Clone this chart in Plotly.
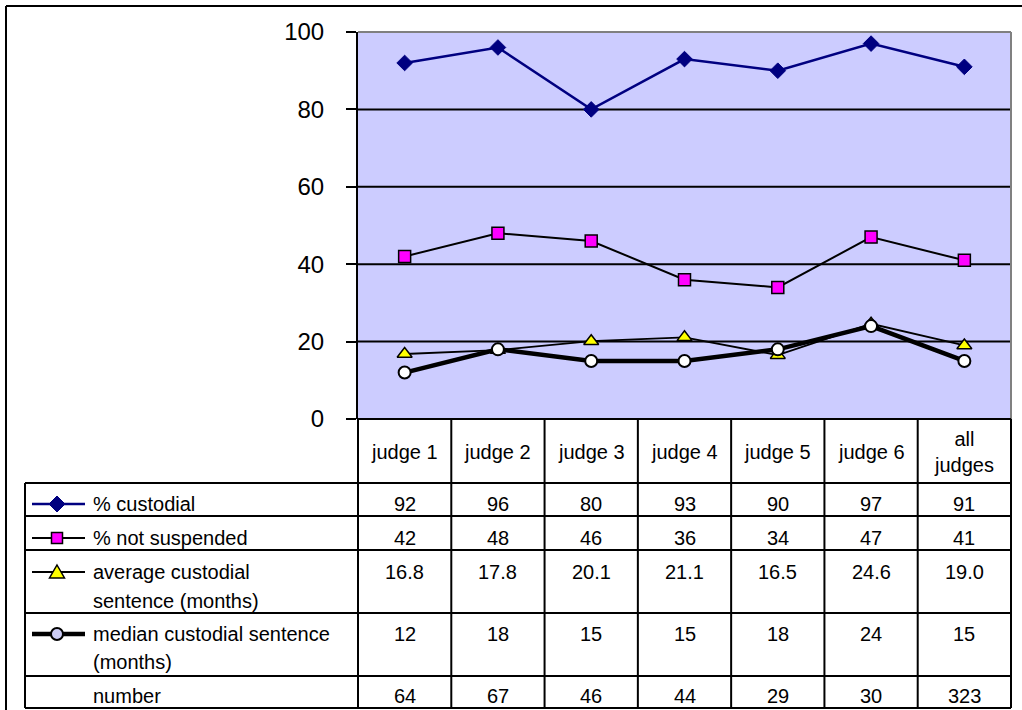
import plotly.graph_objects as go

# ---- data ---------------------------------------------------------------
judges = ["judge 1", "judge 2", "judge 3", "judge 4", "judge 5", "judge 6", "all judges"]
header_labels = ["judge 1", "judge 2", "judge 3", "judge 4", "judge 5", "judge 6", "all<br>judges"]
pct_custodial = [92, 96, 80, 93, 90, 97, 91]
pct_not_suspended = [42, 48, 46, 36, 34, 47, 41]
avg_custodial_sentence = [16.8, 17.8, 20.1, 21.1, 16.5, 24.6, 19.0]
median_custodial_sentence = [12, 18, 15, 15, 18, 24, 15]
number_of_cases = [64, 67, 46, 44, 29, 30, 323]
y_ticks = [0, 20, 40, 60, 80, 100]
grid_levels = [20, 40, 60, 80]

# ---- page geometry (pixels) --------------------------------------------
W, H = 1022, 710
PLOT_L, PLOT_R, PLOT_T, PLOT_B = 358, 1011, 32, 419
TABLE_L = 25
ROW_LINES = [483, 516, 550, 613, 676, 708]
FONT = "Liberation Sans, Arial, sans-serif"
CELL_SIZE = 20


def px(x):
    return x / W


def py(y):
    return 1 - y / H


NAVY = "#000080"
MAGENTA = "#FF00FF"
YELLOW = "#FFFF00"

series = [
    dict(name="% custodial", y=pct_custodial, line=dict(color=NAVY, width=2.5),
         marker=dict(symbol="diamond", size=12, color=NAVY, line=dict(color=NAVY, width=1))),
    dict(name="% not suspended", y=pct_not_suspended, line=dict(color="black", width=2),
         marker=dict(symbol="square", size=12, color=MAGENTA, line=dict(color="black", width=1.5))),
    dict(name="average custodial sentence (months)", y=avg_custodial_sentence,
         line=dict(color="black", width=1.8),
         marker=dict(symbol="triangle-up", size=13, color=YELLOW, line=dict(color="black", width=1.5))),
    dict(name="median custodial sentence (months)", y=median_custodial_sentence,
         line=dict(color="black", width=4.5),
         marker=dict(symbol="circle", size=12, color="white", line=dict(color="black", width=2))),
]

fig = go.Figure()
for s in series:
    fig.add_trace(go.Scatter(x=judges, y=s["y"], name=s["name"], mode="lines+markers",
                             line=s["line"], marker=s["marker"], cliponaxis=False,
                             hoverinfo="x+y+name"))

shapes = []
annotations = []


def hline(y, x0, x1, color="black", width=2):
    shapes.append(dict(type="line", xref="paper", yref="paper", x0=px(x0), x1=px(x1),
                       y0=py(y), y1=py(y), line=dict(color=color, width=width)))


def vline(x, y0, y1, color="black", width=2):
    shapes.append(dict(type="line", xref="paper", yref="paper", x0=px(x), x1=px(x),
                       y0=py(y0), y1=py(y1), line=dict(color=color, width=width)))


# horizontal gridlines inside the plot area
for g in grid_levels:
    shapes.append(dict(type="line", xref="paper", yref="y", x0=px(PLOT_L), x1=px(PLOT_R),
                       y0=g, y1=g, line=dict(color="black", width=2), layer="below"))

# gray frame on the top and right of the plot area
hline(PLOT_T, PLOT_L, PLOT_R, color="#808080", width=2)
vline(PLOT_R, PLOT_T, PLOT_B, color="#808080", width=2)

# outer border of the whole chart (left and top edges fall inside the page)
hline(6, 6, W)
vline(6, 6, H)

# data table grid
hline(PLOT_B, PLOT_L, PLOT_R)
for y in ROW_LINES:
    hline(y, TABLE_L, PLOT_R)
vline(TABLE_L, ROW_LINES[0], ROW_LINES[-1])
vline(PLOT_L, PLOT_B, ROW_LINES[-1])
vline(PLOT_R, PLOT_B, ROW_LINES[-1])
for i in range(1, len(judges)):
    shapes.append(dict(type="line", xref="x", yref="paper", x0=i - 0.5, x1=i - 0.5,
                       y0=py(PLOT_B), y1=py(ROW_LINES[-1]), line=dict(color="black", width=2)))

# column headers
for j, lab in zip(judges, header_labels):
    annotations.append(dict(xref="x", yref="paper", x=j, y=py(452), text=lab, showarrow=False,
                            xanchor="center", yanchor="middle",
                            font=dict(family=FONT, size=CELL_SIZE, color="black")))

# table rows: label lines, values, number format, text line y positions, legend key
rows = [
    (["% custodial"], pct_custodial, "{:d}", [504], 0),
    (["% not suspended"], pct_not_suspended, "{:d}", [538], 1),
    (["average custodial", "sentence (months)"], avg_custodial_sentence, "{:.1f}", [572, 601], 2),
    (["median custodial sentence", "(months)"], median_custodial_sentence, "{:d}", [634, 662], 3),
    (["number"], number_of_cases, "{:d}", [696], None),
]

KEY_X0, KEY_X1, KEY_CX = 32, 85, 57


def key_symbol(idx, y):
    s = series[idx]
    hline(y, KEY_X0, KEY_X1, color=s["line"]["color"], width=s["line"]["width"])
    sym = s["marker"]["symbol"]
    fill = s["marker"]["color"]
    edge = s["marker"]["line"]["color"]
    ew = s["marker"]["line"]["width"]
    if sym == "diamond":
        r = 8
        path = "M{},{} L{},{} L{},{} L{},{} Z".format(
            px(KEY_CX), py(y - r), px(KEY_CX + r), py(y), px(KEY_CX), py(y + r), px(KEY_CX - r), py(y))
        shapes.append(dict(type="path", xref="paper", yref="paper", path=path,
                           fillcolor=fill, line=dict(color=edge, width=ew)))
    elif sym == "square":
        r = 5.5
        shapes.append(dict(type="rect", xref="paper", yref="paper", x0=px(KEY_CX - r), x1=px(KEY_CX + r),
                           y0=py(y - r), y1=py(y + r), fillcolor=fill, line=dict(color=edge, width=ew)))
    elif sym == "triangle-up":
        path = "M{},{} L{},{} L{},{} Z".format(
            px(KEY_CX), py(y - 7), px(KEY_CX + 7.5), py(y + 6), px(KEY_CX - 7.5), py(y + 6))
        shapes.append(dict(type="path", xref="paper", yref="paper", path=path,
                           fillcolor=fill, line=dict(color=edge, width=ew)))
    elif sym == "circle":
        r = 6
        shapes.append(dict(type="circle", xref="paper", yref="paper", x0=px(KEY_CX - r), x1=px(KEY_CX + r),
                           y0=py(y - r), y1=py(y + r), fillcolor="#CCCCF5", line=dict(color=edge, width=ew)))


for label_lines, values, fmt, ys, key in rows:
    for line_text, y in zip(label_lines, ys):
        annotations.append(dict(xref="paper", yref="paper", x=px(91), y=py(y), text=line_text,
                                showarrow=False, xanchor="left", yanchor="middle",
                                font=dict(family=FONT, size=CELL_SIZE, color="black")))
    for j, v in zip(judges, values):
        annotations.append(dict(xref="x", yref="paper", x=j, y=py(ys[0]), text=fmt.format(v),
                                showarrow=False, xanchor="center", yanchor="middle",
                                font=dict(family=FONT, size=CELL_SIZE, color="black")))
    if key is not None:
        key_symbol(key, ys[0])

fig.update_layout(
    width=W, height=H,
    autosize=False,
    margin=dict(l=0, r=0, t=0, b=0, pad=0, autoexpand=False),
    paper_bgcolor="white",
    plot_bgcolor="#CCCCFF",
    showlegend=False,
    font=dict(family=FONT, color="black"),
    shapes=shapes,
    annotations=annotations,
    xaxis=dict(domain=[px(PLOT_L), px(PLOT_R)], type="category", range=[-0.5, len(judges) - 0.5],
               showticklabels=False, showgrid=False, zeroline=False, showline=False, ticks="",
               automargin=False),
    yaxis=dict(domain=[py(PLOT_B), py(PLOT_T)], range=[0, 100], tickvals=y_ticks,
               showgrid=False, zeroline=False, showline=True, linecolor="black", linewidth=2,
               ticks="outside", ticklen=10, tickwidth=2, tickcolor="black",
               ticklabelstandoff=17, automargin=False,
               tickfont=dict(family=FONT, size=24, color="black")),
)

fig.write_html("out.html")
